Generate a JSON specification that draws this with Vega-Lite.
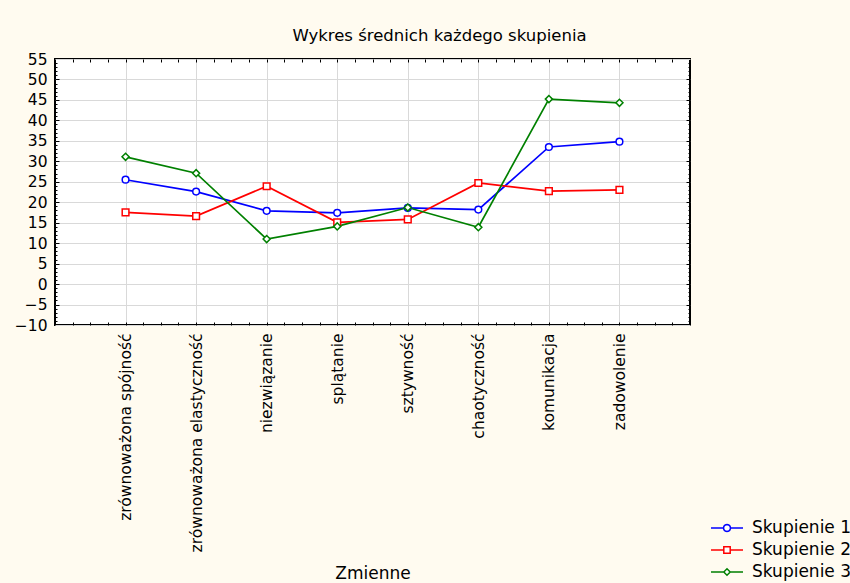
{
  "$schema": "https://vega.github.io/schema/vega-lite/v6.json",
  "width": 635,
  "height": 266,
  "autosize": {"type": "none"},
  "padding": {"left": 55, "top": 59, "right": 160, "bottom": 258},
  "background": "#fffbf0",
  "config": {
    "view": {"stroke": "#000000", "strokeWidth": 2, "fill": "#ffffff"},
    "font": "DejaVu Sans"
  },
  "title": {
    "text": "Wykres średnich każdego skupienia",
    "font": "DejaVu Sans",
    "fontSize": 16.5,
    "fontWeight": "normal",
    "color": "#000000",
    "baseline": "bottom",
    "anchor": "middle",
    "offset": 1,
    "dx": 67,
    "dy": 9
  },
  "data": {
    "values": [
      {"Zmienna": "zrównoważona spójność", "Skupienie": "Skupienie 1", "Wartosc": 25.5},
      {"Zmienna": "zrównoważona elastyczność", "Skupienie": "Skupienie 1", "Wartosc": 22.6},
      {"Zmienna": "niezwiązanie", "Skupienie": "Skupienie 1", "Wartosc": 17.9},
      {"Zmienna": "splątanie", "Skupienie": "Skupienie 1", "Wartosc": 17.4},
      {"Zmienna": "sztywność", "Skupienie": "Skupienie 1", "Wartosc": 18.6},
      {"Zmienna": "chaotyczność", "Skupienie": "Skupienie 1", "Wartosc": 18.2},
      {"Zmienna": "komunikacja", "Skupienie": "Skupienie 1", "Wartosc": 33.5},
      {"Zmienna": "zadowolenie", "Skupienie": "Skupienie 1", "Wartosc": 34.8},
      {"Zmienna": "zrównoważona spójność", "Skupienie": "Skupienie 2", "Wartosc": 17.5},
      {"Zmienna": "zrównoważona elastyczność", "Skupienie": "Skupienie 2", "Wartosc": 16.6},
      {"Zmienna": "niezwiązanie", "Skupienie": "Skupienie 2", "Wartosc": 23.9},
      {"Zmienna": "splątanie", "Skupienie": "Skupienie 2", "Wartosc": 15.1},
      {"Zmienna": "sztywność", "Skupienie": "Skupienie 2", "Wartosc": 15.8},
      {"Zmienna": "chaotyczność", "Skupienie": "Skupienie 2", "Wartosc": 24.7},
      {"Zmienna": "komunikacja", "Skupienie": "Skupienie 2", "Wartosc": 22.7},
      {"Zmienna": "zadowolenie", "Skupienie": "Skupienie 2", "Wartosc": 23.0},
      {"Zmienna": "zrównoważona spójność", "Skupienie": "Skupienie 3", "Wartosc": 31.1},
      {"Zmienna": "zrównoważona elastyczność", "Skupienie": "Skupienie 3", "Wartosc": 27.1},
      {"Zmienna": "niezwiązanie", "Skupienie": "Skupienie 3", "Wartosc": 11.0},
      {"Zmienna": "splątanie", "Skupienie": "Skupienie 3", "Wartosc": 14.1},
      {"Zmienna": "sztywność", "Skupienie": "Skupienie 3", "Wartosc": 18.7},
      {"Zmienna": "chaotyczność", "Skupienie": "Skupienie 3", "Wartosc": 13.9},
      {"Zmienna": "komunikacja", "Skupienie": "Skupienie 3", "Wartosc": 45.2},
      {"Zmienna": "zadowolenie", "Skupienie": "Skupienie 3", "Wartosc": 44.3}
    ]
  },
  "layer": [
    {
      "encoding": {
        "x": {
          "field": "Zmienna",
          "type": "nominal",
          "scale": {
            "type": "point",
            "padding": 1,
            "domain": ["zrównoważona spójność", "zrównoważona elastyczność", "niezwiązanie", "splątanie", "sztywność", "chaotyczność", "komunikacja", "zadowolenie"]
          },
          "axis": {
            "title": "Zmienne",
            "orient": "bottom",
            "offset": 0,
            "labelAngle": -90,
            "labelFont": "DejaVu Sans",
            "labelFontSize": 15.5,
            "labelColor": "#000000",
            "labelPadding": 8,
            "labelLimit": 0,
            "ticks": false,
            "domain": false,
            "grid": true,
            "gridColor": "#d9d9d9",
            "gridWidth": 1,
            "titleFont": "DejaVu Sans",
            "titleFontSize": 17,
            "titleFontWeight": "normal",
            "titleColor": "#000000",
            "titleBaseline": "alphabetic",
            "titleY": 253
          }
        },
        "y": {
          "field": "Wartosc",
          "type": "quantitative",
          "scale": {"domain": [-10, 55], "nice": false, "zero": false},
          "axis": {
            "title": null,
            "orient": "left",
            "offset": 0,
            "values": [-10, -5, 0, 5, 10, 15, 20, 25, 30, 35, 40, 45, 50, 55],
            "labelFont": "DejaVu Sans",
            "labelFontSize": 15.5,
            "labelColor": "#000000",
            "labelPadding": 8,
            "labelOverlap": false,
            "ticks": false,
            "domain": false,
            "grid": true,
            "gridColor": "#d9d9d9",
            "gridWidth": 1
          }
        },
        "color": {
          "field": "Skupienie",
          "type": "nominal",
          "scale": {
            "domain": ["Skupienie 1", "Skupienie 2", "Skupienie 3"],
            "range": ["#0000ff", "#ff0000", "#008000"]
          },
          "legend": {
            "orient": "none",
            "legendX": 655,
            "legendY": 458,
            "title": null,
            "padding": 0,
            "labelFont": "DejaVu Sans",
            "labelFontSize": 17,
            "labelColor": "#000000",
            "labelLimit": 0,
            "labelOffset": 8,
            "symbolSize": 1024,
            "symbolOffset": 0,
            "clipHeight": 22,
            "rowPadding": 0,
            "symbolStrokeWidth": 1.5,
            "symbolFillColor": "transparent",
            "symbolOpacity": 1
          }
        }
      },
      "layer": [
        {
          "mark": {"type": "line", "strokeWidth": 1.7}
        },
        {
          "transform": [{"filter": "datum.Skupienie === 'Skupienie 1'"}],
          "mark": {"type": "point", "shape": "circle", "filled": false, "fill": "#ffffff", "size": 45, "strokeWidth": 1.5, "opacity": 1}
        },
        {
          "transform": [{"filter": "datum.Skupienie === 'Skupienie 2'"}],
          "mark": {"type": "point", "shape": "square", "filled": false, "fill": "#ffffff", "size": 45, "strokeWidth": 1.5, "opacity": 1}
        },
        {
          "transform": [{"filter": "datum.Skupienie === 'Skupienie 3'"}],
          "mark": {"type": "point", "shape": "diamond", "filled": false, "fill": "#ffffff", "size": 50, "strokeWidth": 1.5, "opacity": 1}
        },
        {
          "mark": {"type": "point", "filled": false, "opacity": 0},
          "encoding": {
            "shape": {
              "field": "Skupienie",
              "type": "nominal",
              "scale": {
                "domain": ["Skupienie 1", "Skupienie 2", "Skupienie 3"],
                "range": [
                  "M-1,0L-0.22,0M0.22,0L1,0M0.22,0L0.19,0.11L0.11,0.19L0,0.22L-0.11,0.19L-0.19,0.11L-0.22,0L-0.19,-0.11L-0.11,-0.19L0,-0.22L0.11,-0.19L0.19,-0.11Z",
                  "M-1,0L-0.2,0M0.2,0L1,0M-0.2,-0.2L0.2,-0.2L0.2,0.2L-0.2,0.2Z",
                  "M-1,0L-0.2,0M0.2,0L1,0M-0.2,0L0,-0.2L0.2,0L0,0.2Z"
                ]
              },
              "legend": {
                "orient": "none",
                "legendX": 655,
                "legendY": 458,
                "title": null,
                "padding": 0,
                "labelFont": "DejaVu Sans",
                "labelFontSize": 17,
                "labelColor": "#000000",
                "labelLimit": 0,
                "labelOffset": 8,
                "symbolSize": 1024,
                "symbolOffset": 0,
                "clipHeight": 22,
                "rowPadding": 0,
                "symbolStrokeWidth": 1.5,
                "symbolFillColor": "transparent",
                "symbolOpacity": 1
              }
            }
          }
        }
      ]
    },
    {
      "mark": {"type": "point", "opacity": 0},
      "encoding": {
        "x": {
          "datum": 0,
          "type": "quantitative",
          "scale": {"domain": [0, 36], "nice": false, "zero": false},
          "axis": {"orient": "bottom", "offset": 0, "title": null, "labels": false, "domain": false, "grid": false, "ticks": true, "tickSize": -3, "tickColor": "#000000", "tickWidth": 1,
            "values": [1,2,3,4,5,6,7,8,9,10,11,12,13,14,15,16,17,18,19,20,21,22,23,24,25,26,27,28,29,30,31,32,33,34,35]}
        },
        "y": {
          "datum": 0,
          "type": "quantitative",
          "scale": {"domain": [-10, 55], "nice": false, "zero": false},
          "axis": {"orient": "left", "offset": 0, "title": null, "labels": false, "domain": false, "grid": false, "ticks": true, "tickSize": -2, "tickColor": "#000000", "tickWidth": 1,
            "values": [-9,-8,-7,-6,-5,-4,-3,-2,-1,0,1,2,3,4,5,6,7,8,9,10,11,12,13,14,15,16,17,18,19,20,21,22,23,24,25,26,27,28,29,30,31,32,33,34,35,36,37,38,39,40,41,42,43,44,45,46,47,48,49,50,51,52,53,54]}
        }
      }
    },
    {
      "mark": {"type": "point", "opacity": 0},
      "encoding": {
        "x": {
          "datum": 0,
          "type": "quantitative",
          "scale": {"domain": [0, 36], "nice": false, "zero": false},
          "axis": {"orient": "top", "offset": 0, "title": null, "labels": false, "domain": false, "grid": false, "ticks": true, "tickSize": -3, "tickColor": "#000000", "tickWidth": 1,
            "values": [1,2,3,4,5,6,7,8,9,10,11,12,13,14,15,16,17,18,19,20,21,22,23,24,25,26,27,28,29,30,31,32,33,34,35]}
        },
        "y": {
          "datum": 0,
          "type": "quantitative",
          "scale": {"domain": [-10, 55], "nice": false, "zero": false},
          "axis": {"orient": "right", "offset": 0, "title": null, "labels": false, "domain": false, "grid": false, "ticks": true, "tickSize": -2, "tickColor": "#000000", "tickWidth": 1,
            "values": [-9,-8,-7,-6,-5,-4,-3,-2,-1,0,1,2,3,4,5,6,7,8,9,10,11,12,13,14,15,16,17,18,19,20,21,22,23,24,25,26,27,28,29,30,31,32,33,34,35,36,37,38,39,40,41,42,43,44,45,46,47,48,49,50,51,52,53,54]}
        }
      }
    },
    {
      "mark": {"type": "point", "opacity": 0},
      "encoding": {
        "x": {"datum": 0, "type": "quantitative", "scale": {"domain": [0, 36], "nice": false, "zero": false}, "axis": null},
        "y": {
          "datum": 0,
          "type": "quantitative",
          "scale": {"domain": [-10, 55], "nice": false, "zero": false},
          "axis": {"orient": "left", "offset": 0, "title": null, "labels": false, "domain": false, "grid": false, "ticks": true, "tickSize": -4, "tickColor": "#000000", "tickWidth": 1,
            "values": [-5, 0, 5, 10, 15, 20, 25, 30, 35, 40, 45, 50]}
        }
      }
    },
    {
      "mark": {"type": "point", "opacity": 0},
      "encoding": {
        "x": {"datum": 0, "type": "quantitative", "scale": {"domain": [0, 36], "nice": false, "zero": false}, "axis": null},
        "y": {
          "datum": 0,
          "type": "quantitative",
          "scale": {"domain": [-10, 55], "nice": false, "zero": false},
          "axis": {"orient": "right", "offset": 0, "title": null, "labels": false, "domain": false, "grid": false, "ticks": true, "tickSize": -4, "tickColor": "#000000", "tickWidth": 1,
            "values": [-5, 0, 5, 10, 15, 20, 25, 30, 35, 40, 45, 50]}
        }
      }
    }
  ],
  "resolve": {
    "scale": {"x": "independent", "y": "independent"},
    "axis": {"x": "independent", "y": "independent"}
  }
}
